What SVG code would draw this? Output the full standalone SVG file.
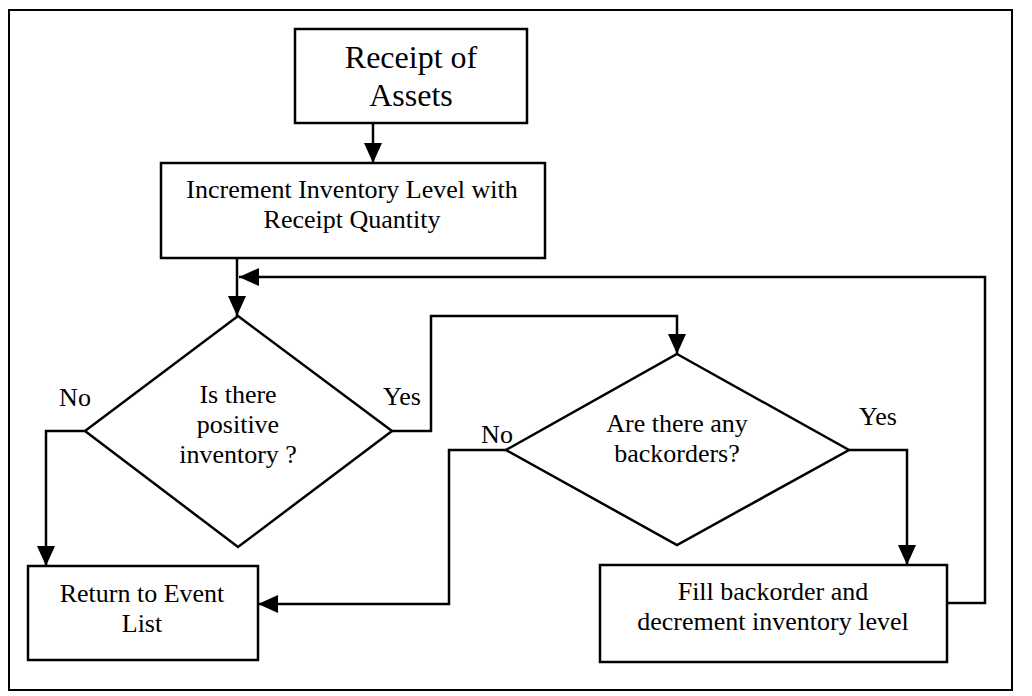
<svg xmlns="http://www.w3.org/2000/svg" width="1032" height="696" viewBox="0 0 1032 696">
<defs>
<style>
.n{fill:#fff;stroke:#000;stroke-width:2.5}
.c{fill:none;stroke:#000;stroke-width:2.5}
text{font-family:"Liberation Serif","Times New Roman",serif;font-size:26px;fill:#000;text-anchor:middle}
.big{font-size:32px}
</style>
<marker id="ah" viewBox="0 0 20 18" refX="20" refY="9" markerWidth="20" markerHeight="18" markerUnits="userSpaceOnUse" orient="auto">
<path d="M0,0 L20,9 L0,18 Z" fill="#000"/>
</marker>
</defs>
<rect width="1032" height="696" fill="#fff"/>
<rect x="9" y="10" width="1003" height="680" fill="none" stroke="#000" stroke-width="2"/>
<g id="connectors">
<path class="c" d="M373,123 V163" marker-end="url(#ah)"/>
<path class="c" d="M237,258 V316" marker-end="url(#ah)"/>
<path class="c" d="M947,603 H985 V277 H239" marker-end="url(#ah)"/>
<path class="c" d="M85,431 H46 V566" marker-end="url(#ah)"/>
<path class="c" d="M392,431 H431 V316 H677 V354" marker-end="url(#ah)"/>
<path class="c" d="M506,450 H449 V604 H258" marker-end="url(#ah)"/>
<path class="c" d="M849,450 H907 V565" marker-end="url(#ah)"/>
</g>
<g id="receipt">
<rect class="n" x="295" y="29" width="232" height="94"/>
<text class="big" x="411" y="68">Receipt of</text>
<text class="big" x="411" y="106">Assets</text>
</g>
<g id="increment">
<rect class="n" x="161" y="163" width="384" height="95"/>
<text x="352" y="198">Increment Inventory Level with</text>
<text x="352" y="228">Receipt Quantity</text>
</g>
<g id="positive">
<polygon class="n" points="238,316 392,431 238,547 85,431"/>
<text x="238" y="403">Is there</text>
<text x="238" y="433">positive</text>
<text x="238" y="463">inventory ?</text>
</g>
<g id="backorders">
<polygon class="n" points="677,354 849,450 677,545 506,450"/>
<text x="677" y="432">Are there any</text>
<text x="677" y="462">backorders?</text>
</g>
<g id="return">
<rect class="n" x="28" y="566" width="230" height="94"/>
<text x="142" y="602">Return to Event</text>
<text x="142" y="632">List</text>
</g>
<g id="fill">
<rect class="n" x="600" y="565" width="347" height="97"/>
<text x="773" y="600">Fill backorder and</text>
<text x="773" y="630">decrement inventory level</text>
</g>
<g id="labels">
<text x="75" y="406">No</text>
<text x="402" y="405">Yes</text>
<text x="497" y="443">No</text>
<text x="878" y="425">Yes</text>
</g>
</svg>
